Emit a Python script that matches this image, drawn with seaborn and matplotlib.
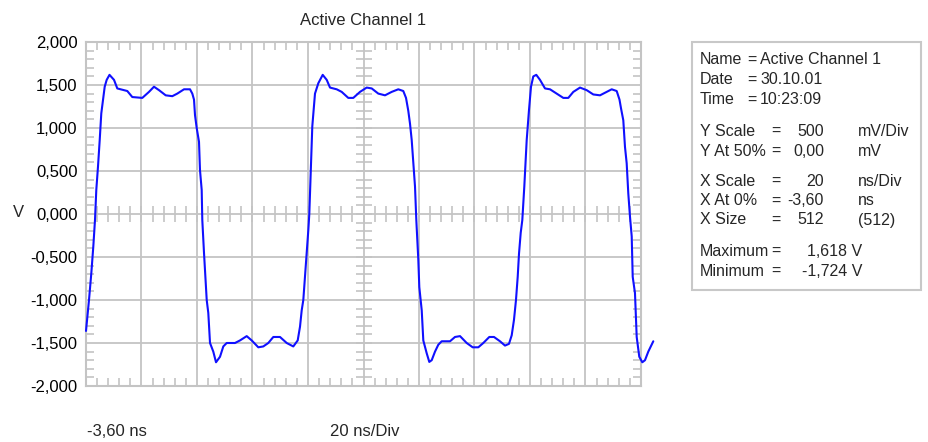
import numpy as np
import matplotlib
matplotlib.use("Agg")
import matplotlib.pyplot as plt
from matplotlib.ticker import FixedLocator, NullFormatter
from matplotlib.patches import Rectangle
import seaborn as sns

# waveform (time in ns, level in V)
t_ns = [-3.60, -2.52, -1.69, -0.97, -0.36, 0.11, 0.72, 1.34, 1.91, 3.14,
        3.86, 4.87, 6.49, 7.68, 10.09, 11.28, 13.08, 16.69, 19.10, 20.90,
        22.71, 25.12, 27.50, 29.30, 31.72, 33.88, 34.71, 35.32, 35.68, 36.29,
        37.12, 37.48, 38.09, 38.31, 38.92, 39.90, 40.47, 41.09, 42.27, 43.25,
        44.69, 45.88, 47.10, 50.09, 51.90, 54.31, 56.11, 58.49, 60.29, 62.09,
        63.90, 66.31, 68.73, 71.10, 72.69, 73.52, 74.13, 74.71, 75.32, 75.93,
        76.51, 76.87, 77.37, 77.95, 78.92, 80.11, 81.70, 83.14, 84.33, 86.74,
        88.54, 90.92, 92.72, 95.14, 97.55, 99.36, 101.73, 104.15, 106.56, 108.94,
        110.74, 111.72, 112.54, 113.16, 113.77, 114.35, 114.96, 115.43, 116.15, 116.51,
        117.38, 117.95, 119.18, 120.11, 120.98, 122.17, 123.36, 124.58, 127.57, 129.37,
        131.18, 133.59, 135.75, 137.77, 139.57, 141.73, 143.43, 145.59, 147.39, 148.83,
        149.81, 150.63, 151.35, 151.97, 152.44, 153.05, 153.63, 154.35, 155.21, 156.04,
        156.76, 157.59, 158.67, 160.00, 161.81, 163.61, 166.02, 168.40, 170.20, 172.01,
        174.42, 176.83, 179.21, 181.63, 183.43, 185.84, 187.64, 188.65, 189.19, 190.02,
        190.63, 191.24, 191.82, 192.43, 193.05, 193.41, 194.23, 194.85, 195.78, 196.87,
        197.84, 199.03, 200.83]
volts = [-1.36, -1.00, -0.69, -0.38, -0.07, 0.28, 0.55, 0.86, 1.17, 1.48,
         1.56, 1.618, 1.56, 1.46, 1.44, 1.43, 1.36, 1.35, 1.42, 1.48,
         1.44, 1.38, 1.37, 1.40, 1.45, 1.45, 1.40, 1.33, 1.15, 1.00,
         0.84, 0.51, 0.28, -0.07, -0.45, -1.00, -1.15, -1.50, -1.60, -1.724,
         -1.66, -1.54, -1.50, -1.50, -1.47, -1.42, -1.47, -1.55, -1.54, -1.50,
         -1.43, -1.43, -1.50, -1.54, -1.47, -1.31, -1.12, -1.00, -0.73, -0.45,
         -0.19, 0.00, 0.47, 1.02, 1.40, 1.52, 1.618, 1.56, 1.47, 1.45,
         1.42, 1.35, 1.35, 1.42, 1.47, 1.46, 1.40, 1.38, 1.42, 1.45,
         1.43, 1.35, 1.20, 1.05, 0.86, 0.59, 0.32, -0.07, -0.53, -0.85,
         -1.12, -1.47, -1.62, -1.72, -1.70, -1.60, -1.52, -1.48, -1.48, -1.43,
         -1.42, -1.50, -1.55, -1.55, -1.50, -1.43, -1.43, -1.48, -1.53, -1.51,
         -1.41, -1.23, -1.00, -0.73, -0.46, -0.22, -0.07, 0.32, 0.86, 1.21,
         1.48, 1.60, 1.618, 1.56, 1.46, 1.45, 1.40, 1.35, 1.35, 1.42,
         1.47, 1.44, 1.39, 1.38, 1.41, 1.45, 1.43, 1.33, 1.23, 1.09,
         0.78, 0.59, 0.24, -0.03, -0.26, -0.73, -0.92, -1.43, -1.66, -1.724,
         -1.70, -1.60, -1.48]

y_ticks = [2.0, 1.5, 1.0, 0.5, 0.0, -0.5, -1.0, -1.5, -2.0]
y_labels = ["2,000", "1,500", "1,000", "0,500", "0,000", "-0,500", "-1,000", "-1,500", "-2,000"]

x_start = -3.6     # X At 0%
x_div = 20.0       # ns per division
n_div = 10

# info panel on the right
info_head = ["Name", "Date", "Time"]
info_head_vals = ["Active Channel 1", "30.10.01", "10:23:09"]
info_labels = ["Y Scale", "Y At 50%", "X Scale", "X At 0%", "X Size"]
info_vals = ["500", "0,00", "20", "-3,60", "512"]
info_units = ["mV/Div", "mV", "ns/Div", "ns", "(512)"]
ext_labels = ["Maximum", "Minimum"]
ext_vals = ["1,618 V", "-1,724 V"]

sns.set_style("white")
plt.rcParams["font.family"] = ["Liberation Sans", "DejaVu Sans"]

W, H = 929, 442
fig = plt.figure(figsize=(W / 100, H / 100), dpi=100)
ax = fig.add_axes([86 / W, 1 - 386 / H, (641 - 86) / W, (386 - 42) / H])

grid_c = "#c4c4c4"
sns.lineplot(x=t_ns, y=volts, ax=ax, color="#1010ff", linewidth=1.5, clip_on=False, zorder=5)

x_end = x_start + n_div * x_div
ax.set_xlim(x_start, x_end)
ax.set_ylim(-2.0, 2.0)

x_major = np.arange(n_div + 1) * x_div + x_start
x_minor = np.arange(n_div * 5 + 1) * (x_div / 5) + x_start
y_minor = np.arange(41) * 0.1 - 2.0

ax.xaxis.set_major_locator(FixedLocator(x_major))
ax.xaxis.set_minor_locator(FixedLocator(x_minor))
ax.xaxis.set_major_formatter(NullFormatter())
ax.set_yticks(y_ticks)
ax.set_yticklabels(y_labels)
ax.yaxis.set_minor_locator(FixedLocator(y_minor))

ax.grid(True, which="major", color=grid_c, linewidth=1.3)
ax.tick_params(which="major", length=0, labelsize=12, pad=6, labelcolor="black")
ax.tick_params(which="minor", direction="in", length=6, width=1.2, color=grid_c,
               top=True, bottom=True, left=True, right=True)
for s in ax.spines.values():
    s.set_color(grid_c)
    s.set_linewidth(1.5)

# ticks along the centre cross
x_mid = x_start + n_div * x_div / 2
ax.plot(x_minor, np.zeros_like(x_minor), ls="none", marker="|", markersize=12,
        markeredgewidth=1.2, color=grid_c, zorder=1)
ax.plot(np.full_like(y_minor, x_mid), y_minor, ls="none", marker="_", markersize=12,
        markeredgewidth=1.2, color=grid_c, zorder=1)

ax.set_title("Active Channel 1", fontsize=12, pad=12)
ax.set_xlabel("")
ax.set_ylabel("")
fig.text(13 / W, 1 - 212 / H, "V", fontsize=12, va="center")
fig.text(87 / W, 1 - 432 / H, "-3,60 ns", fontsize=12, va="center")
fig.text(330 / W, 1 - 432 / H, "20 ns/Div", fontsize=12, va="center")

# info box
fig.add_artist(Rectangle((692 / W, 1 - 290 / H), (921 - 692) / W, (290 - 42) / H,
                         transform=fig.transFigure, fill=False, edgecolor="#c8c8c8", linewidth=1.5))
fs = 11.5
for i, (lab, val) in enumerate(zip(info_head, info_head_vals)):
    y = 1 - (60 + 20 * i) / H
    fig.text(700 / W, y, lab, fontsize=fs, va="center")
    fig.text(752 / W, y, "=", fontsize=fs, va="center", ha="center")
    fig.text(760 / W, y, val, fontsize=fs, va="center")
row_y = [131, 151, 181, 201, 220]
for lab, val, unit, yp in zip(info_labels, info_vals, info_units, row_y):
    y = 1 - yp / H
    fig.text(700 / W, y, lab, fontsize=fs, va="center")
    fig.text(776 / W, y, "=", fontsize=fs, va="center", ha="center")
    fig.text(824 / W, y, val, fontsize=fs, va="center", ha="right")
    fig.text(858 / W, y, unit, fontsize=fs, va="center")
for i, (lab, val) in enumerate(zip(ext_labels, ext_vals)):
    y = 1 - (251 + 20 * i) / H
    fig.text(700 / W, y, lab, fontsize=fs, va="center")
    fig.text(776 / W, y, "=", fontsize=fs, va="center", ha="center")
    fig.text(862 / W, y, val, fontsize=fs, va="center", ha="right")

fig.savefig("out.png", dpi=100)
